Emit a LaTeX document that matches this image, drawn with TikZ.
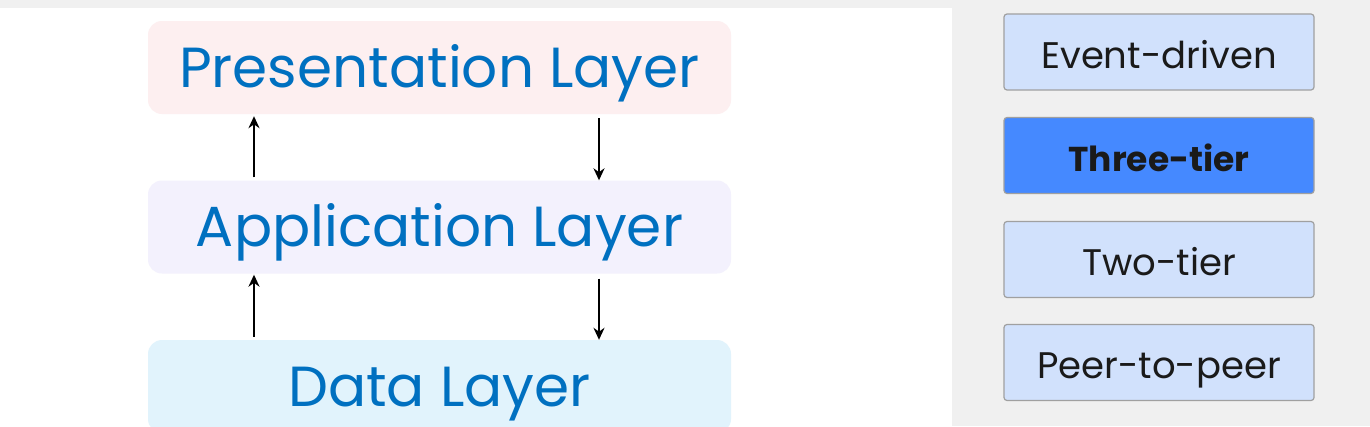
\documentclass[tikz,border=0pt]{standalone}
\usepackage{fontspec}
\setmainfont{Poppins}
\usetikzlibrary{arrows.meta}
\definecolor{bggray}{HTML}{F0F0F0}
\definecolor{presfill}{HTML}{FDEFF0}
\definecolor{appfill}{HTML}{F3F1FD}
\definecolor{datafill}{HTML}{E1F3FC}
\definecolor{layertext}{HTML}{0070C0}
\definecolor{btnfill}{HTML}{D1E1FC}
\definecolor{btnsel}{HTML}{4589FF}
\definecolor{btnline}{HTML}{A0A0A0}
\definecolor{btntext}{HTML}{1A1A1A}
\tikzset{
  layer/.style={rectangle, rounded corners=14pt, minimum width=583pt, minimum height=93pt,
    inner sep=0pt, text=layertext, font=\fontsize{56.5}{66}\selectfont,
    text height=39.5pt, text depth=0pt},
  btnbox/.style={rectangle, rounded corners=3pt, draw=btnline, line width=1.2pt, fill=btnfill,
    minimum width=310pt, minimum height=76pt, inner sep=0pt},
  btnlabel/.style={text=btntext, font=\fontsize{37}{44}\selectfont,
    text height=26pt, text depth=0pt, inner sep=0pt, yshift=-3pt},
  btnsellabel/.style={text=btntext, font=\fontsize{34.5}{40}\selectfont\bfseries,
    text height=24pt, text depth=0pt, inner sep=0pt, yshift=-3.5pt},
  arr/.style={line width=2.8pt, -{Stealth[length=12pt,width=11pt]}}
}
\begin{document}
\begin{tikzpicture}[x=1pt,y=-1pt]
\useasboundingbox (0,0) rectangle (1370,426);
\clip (0,0) rectangle (1370,426);
\fill[bggray] (0,0) rectangle (1370,426);
\fill[white] (0,8) rectangle (952,426);
\node[layer, fill=presfill] (pres) at (439.5,67.5) {Presentation Layer};
\node[layer, fill=appfill] (app) at (439.5,227) {Application Layer};
\node[layer, fill=datafill] (data) at (439.5,386.5) {Data Layer};
\draw[arr] ([xshift=-185.5pt,yshift=3pt]app.north) -- ([xshift=-185.5pt,yshift=-2pt]pres.south);
\draw[arr] ([xshift=159.5pt,yshift=-4pt]pres.south) -- ([xshift=159.5pt]app.north);
\draw[arr] ([xshift=-185.5pt,yshift=3pt]data.north) -- ([xshift=-185.5pt,yshift=-1pt]app.south);
\draw[arr] ([xshift=159.5pt,yshift=-5pt]app.south) -- ([xshift=159.5pt]data.north);
\node[btnbox] (ev) at (1159,52) {};
\node[btnbox, fill=btnsel] (three) at (1159,155.5) {};
\node[btnbox] (two) at (1159,259.5) {};
\node[btnbox] (peer) at (1159,362.5) {};
\node[btnlabel] (evt) at (ev.center) {Event-driven};
\node[btnsellabel] (threet) at (three.center) {Three-tier};
\node[btnlabel] (twot) at (two.center) {Two-tier};
\node[btnlabel] (peert) at (peer.center) {Peer-to-peer};
\end{tikzpicture}
\end{document}
